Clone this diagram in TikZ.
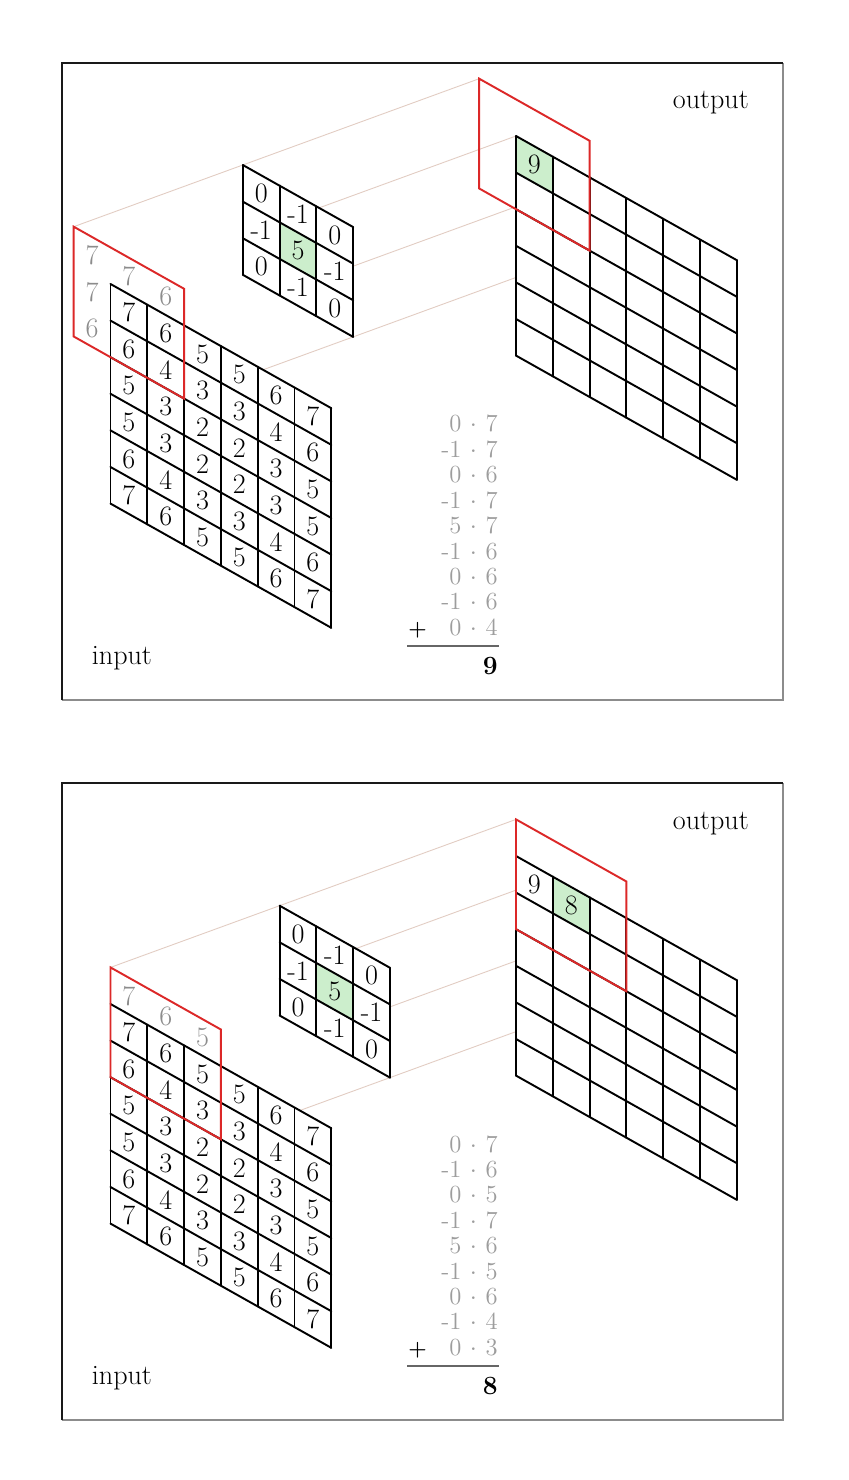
\documentclass[tikz,border=0pt]{standalone}
\usepackage{xcolor}
\usetikzlibrary{calc}

\definecolor{winred}{RGB}{220,40,40}
\definecolor{cellgreen}{RGB}{204,238,204}
\definecolor{padgray}{RGB}{140,140,140}
\definecolor{raycol}{RGB}{226,204,194}

\tikzset{
  gridline/.style={line width=1.1pt,line cap=round,black},
  redwin/.style={draw=winred,line width=1.1pt},
  ray/.style={draw=raycol,line width=0.5pt},
  cellnum/.style={font=\fontsize{16}{18}\selectfont,inner sep=0pt},
  padnum/.style={cellnum,text=padgray},
  sumnum/.style={font=\fontsize{14}{16}\selectfont,text=padgray!85,anchor=base east,inner sep=0pt},
  mapname/.style={font=\fontsize{16}{18}\selectfont,anchor=base west,inner sep=0pt},
  skew/.style={x={(0.736cm,-0.414cm)},y={(0cm,-0.732cm)}},
}

% one cell of a skewed grid
\newcommand{\cellpath}[2]{(#1,#2) -- ++(1,0) -- ++(0,1) -- ++(-1,0) -- cycle}
% white grid of #1 x #2 cells, #3 goes on the white before the lines
\newcommand{\skewgrid}[3]{%
  \fill[white] (0,0) -- (#1,0) -- (#1,#2) -- (0,#2) -- cycle;
  #3
  \foreach \k in {0,...,#1} \draw[gridline] (\k,0) -- (\k,#2);
  \foreach \k in {0,...,#2} \draw[gridline] (0,\k) -- (#1,\k);
}

% #1 name, #2 shift, #3 first column of the window,
% #4 padding, #5 output values, #6 products, #7 sum
\newcommand{\convpanel}[7]{%
\begin{scope}[yshift=#2]
  \coordinate (#1-sw) at (1.24,-14.0);
  \coordinate (#1-ne) at (15.66,-1.26);
  \draw[line width=1pt,black!45] (#1-sw) -| (#1-ne);
  \draw[line width=1.4pt,black!90] (#1-sw) |- (#1-ne);
  \node[mapname] (#1-input) at (1.83,-13.28) {input};
  \node[mapname] (#1-output) at (13.45,-2.18) {output};
  % the sum
  \foreach \a/\b [count=\n] in {#6}
    \node[sumnum] (#1-sum\n) at (9.96,{-8.132-0.508*\n}) {\a\hspace{.35em}$\cdot$\hspace{.35em}\b};
  \node[sumnum,font=\fontsize{12}{14}\selectfont\bfseries,anchor=base west,text=black] (#1-plus) at (8.16,-12.70) {+};
  \draw[line width=1.2pt,black!60] (8.14,-12.92) -- (9.97,-12.92);
  \node[sumnum,font=\fontsize{15}{17}\selectfont,text=black] (#1-res) at (9.96,-13.48) {\textbf{#7}};
  \begin{scope}[shift={(2.21,-5.68)},skew]
    % corners for the rays
    \coordinate (#1-in-a) at (#3,-1);
    \coordinate (#1-in-d) at (#3+3,2);
    \begin{scope}[shift={(3.382cm,1.234cm)}]
      \coordinate (#1-k-a) at (#3,-1);
      \coordinate (#1-k-b) at (#3+1,0);
      \coordinate (#1-k-c) at (#3+2,1);
      \coordinate (#1-k-d) at (#3+3,2);
    \end{scope}
    \begin{scope}[shift={(8.11cm,2.96cm)}]
      \coordinate (#1-out-a) at (#3,-1);
      \coordinate (#1-out-b) at (#3+1,0);
      \coordinate (#1-out-c) at (#3+2,1);
      \coordinate (#1-out-d) at (#3+3,2);
    \end{scope}
    \draw[ray] (#1-in-a) -- (#1-k-a) -- (#1-out-a);
    \draw[ray] (#1-k-b) -- (#1-out-b);
    \draw[ray] (#1-k-c) -- (#1-out-c);
    \draw[ray] (#1-in-d) -- (#1-k-d) -- (#1-out-d);
    % input
    \skewgrid{6}{6}{}
    \foreach \row [count=\j from 0] in {{7,6,5,5,6,7},{6,4,3,3,4,6},{5,3,2,2,3,5},{5,3,2,2,3,5},{6,4,3,3,4,6},{7,6,5,5,6,7}}
      \foreach \v [count=\i from 0] in \row
        \node[cellnum] (#1-in-\i-\j) at (\i+.5,\j+.5) {\v};
    \foreach \i/\j/\v [count=\n] in {#4}
      \node[padnum] (#1-pad\n) at (\i+.5,\j+.5) {\v};
    \draw[redwin] (#3,-1) -- (#3+3,-1) -- (#3+3,2) -- (#3,2) -- cycle;
    % kernel
    \begin{scope}[shift={(3.382cm,1.234cm)},shift={(#3,-1)}]
      \skewgrid{3}{3}{\fill[cellgreen] \cellpath{1}{1};}
      \foreach \row [count=\j from 0] in {{0,-1,0},{-1,5,-1},{0,-1,0}}
        \foreach \v [count=\i from 0] in \row
          \node[cellnum] (#1-k-\i-\j) at (\i+.5,\j+.5) {\v};
    \end{scope}
    % output
    \begin{scope}[shift={(8.11cm,2.96cm)}]
      \skewgrid{6}{6}{\fill[cellgreen] \cellpath{#3+1}{0};}
      \foreach \i/\j/\v [count=\n] in {#5}
        \node[cellnum] (#1-out\n) at (\i+.5,\j+.5) {\v};
      \draw[redwin] (#3,-1) -- (#3+3,-1) -- (#3+3,2) -- (#3,2) -- cycle;
    \end{scope}
  \end{scope}
\end{scope}}

\begin{document}
\begin{tikzpicture}
  \fill[white] (0,0) rectangle (16.96,-29.6);
  \convpanel{a}{0cm}{-1}{-1/-1/7,0/-1/7,1/-1/6,-1/0/7,-1/1/6}{0/0/9}
    {0/7,-1/7,0/6,-1/7,5/7,-1/6,0/6,-1/6,0/4}{9}
  \convpanel{b}{-14.4cm}{0}{0/-1/7,1/-1/6,2/-1/5}{0/0/9,1/0/8}
    {0/7,-1/6,0/5,-1/7,5/6,-1/5,0/6,-1/4,0/3}{8}
\end{tikzpicture}
\end{document}
